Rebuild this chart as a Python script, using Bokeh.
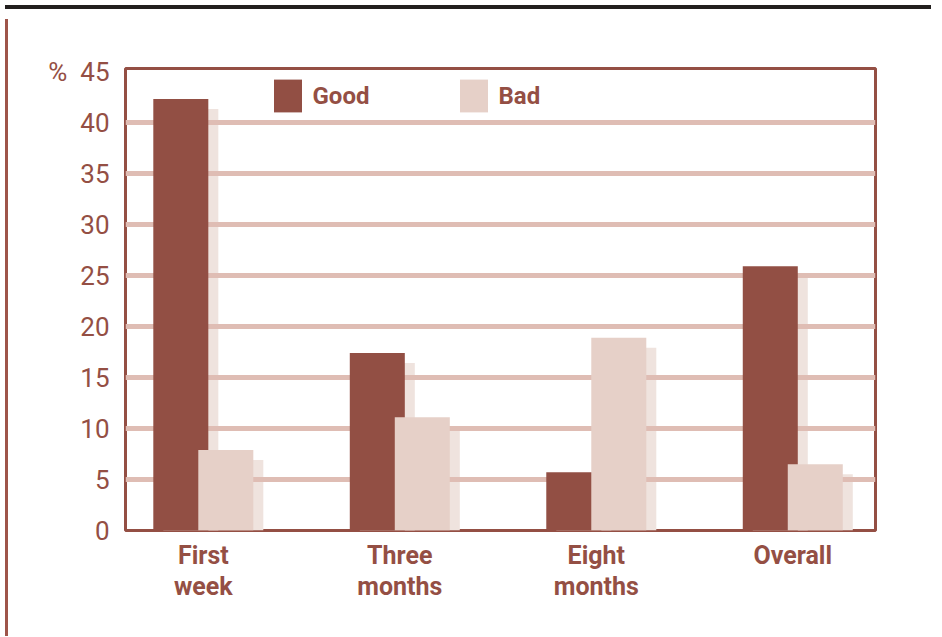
from bokeh.plotting import figure
from bokeh.models import (ColumnDataSource, FixedTicker, Range1d, Legend, LegendItem,
                          Div)
from bokeh.layouts import row, column
from bokeh.embed import file_html
from bokeh.resources import INLINE

# ---- data ----
categories = ["First\nweek", "Three\nmonths", "Eight\nmonths", "Overall"]
good = [42.3, 17.4, 5.7, 25.9]
bad = [7.9, 11.1, 18.9, 6.5]
y_ticks = [0, 5, 10, 15, 20, 25, 30, 35, 40, 45]
series_names = ["Good", "Bad"]

# ---- styles ----
DARK = "#924f44"
LIGHT = "#e6d0c8"
SHADOW = "#efe3de"
GRID = "#dfbdb4"
TEXT = "#944f44"
RULE = "#9e554a"
HEADER = "#221f1e"
FONT = "Roboto"

W, H = 923, 617
p = figure(width=W, height=H, output_backend="svg", toolbar_location=None,
           x_range=Range1d(-0.396, 3.421), y_range=Range1d(0, 45.3),
           min_border_left=112, min_border_right=61, min_border_top=54,
           min_border_bottom=101)
p.background_fill_color = "white"
p.border_fill_color = "white"
p.outline_line_color = TEXT
p.outline_line_width = 3

idx = list(range(len(categories)))
bw = 0.28          # bar width (in category units)
off = 0.1145       # dodge offset
sdx = 0.0509       # shadow horizontal offset
sdy = 0.98         # shadow vertical offset

src = ColumnDataSource(dict(
    x=idx, good=good, bad=bad,
    xg=[i - off for i in idx], xb=[i + off for i in idx],
    xgs=[i - off + sdx for i in idx], xbs=[i + off + sdx for i in idx],
    good_s=[v - sdy for v in good], bad_s=[v - sdy for v in bad],
))

# shadows (behind grid)
p.vbar(x="xgs", top="good_s", bottom=0, width=bw, source=src, fill_color=SHADOW,
       line_color=None, level="image")
p.vbar(x="xbs", top="bad_s", bottom=0, width=bw, source=src, fill_color=SHADOW,
       line_color=None, level="image")
# bars
rg = p.vbar(x="xg", top="good", bottom=0, width=bw, source=src, fill_color=DARK,
            line_color=None)
rb = p.vbar(x="xb", top="bad", bottom=0, width=bw, source=src, fill_color=LIGHT,
            line_color=None)

# grid
p.xgrid.visible = False
p.ygrid.ticker = FixedTicker(ticks=[t for t in y_ticks if 0 < t < 45])
p.ygrid.grid_line_color = GRID
p.ygrid.grid_line_width = 5
p.ygrid.level = "underlay"

# y axis
ya = p.yaxis[0]
ya.ticker = FixedTicker(ticks=y_ticks)
ya.major_label_overrides = {45: "%\u00a0\u00a045"}
ya.axis_line_color = None
ya.major_tick_line_color = None
ya.minor_tick_line_color = None
ya.major_tick_out = 0
ya.major_tick_in = 0
ya.major_label_text_color = TEXT
ya.major_label_text_font = FONT
ya.major_label_text_font_size = "26px"
ya.major_label_standoff = 16

# x axis
xa = p.xaxis[0]
xa.ticker = FixedTicker(ticks=idx)
xa.major_label_overrides = {i: c for i, c in zip(idx, categories)}
xa.axis_line_color = None
xa.major_tick_line_color = None
xa.minor_tick_line_color = None
xa.major_tick_out = 0
xa.major_tick_in = 0
xa.major_label_text_color = TEXT
xa.major_label_text_font = FONT
xa.major_label_text_font_style = "bold"
xa.major_label_text_font_size = "25px"
xa.major_label_text_line_height = 1.1
xa.major_label_standoff = 10

# legend
legend = Legend(items=[LegendItem(label=series_names[0], renderers=[rg]),
                       LegendItem(label=series_names[1], renderers=[rb])],
                orientation="horizontal", location=(144.5, 414),
                glyph_width=35, glyph_height=41, label_standoff=8,
                label_width=143, spacing=0, padding=0, margin=0,
                border_line_color=None, background_fill_alpha=0,
                label_text_color=TEXT, label_text_font=FONT,
                label_text_font_style="bold", label_text_font_size="24px")
p.add_layout(legend, "center")

# page decorations: dark header band and left rule
header = Div(text="", width=W + 3, height=4,
             styles={"background-color": HEADER})
rule = Div(text="", width=3, height=H, styles={"background-color": RULE})
layout = column(header, row(rule, p, spacing=0), spacing=0)

open("out.html", "w").write(file_html(layout, INLINE))
